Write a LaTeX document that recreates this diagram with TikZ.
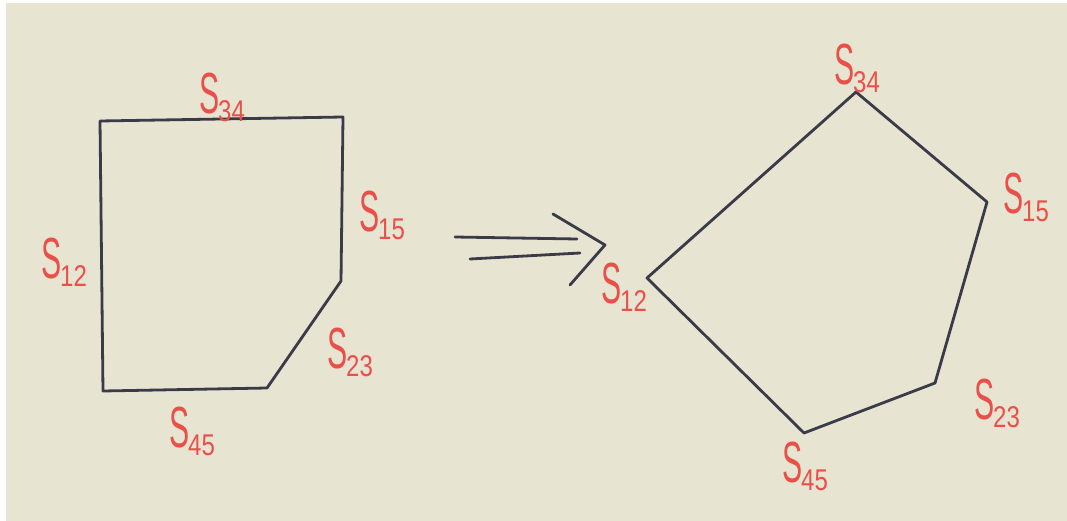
\documentclass[tikz,border=0pt]{standalone}
\usepackage{fontspec}
\setsansfont{Liberation Sans}
\definecolor{paper}{RGB}{232,228,210}
\definecolor{ink}{RGB}{58,58,72}
\definecolor{redink}{RGB}{234,80,74}
\newcommand\slab[1]{\sffamily\scalebox{0.52}[1]{\fontsize{58}{58}\selectfont S}\kern-1pt\raisebox{-8pt}{\scalebox{0.8}[1]{\fontsize{30}{30}\selectfont #1}}}
\begin{document}
\begin{tikzpicture}[x=1pt,y=-1pt,
  pen/.style={draw=ink,line width=2.8pt,line join=round,line cap=round},
  lab/.style={text=redink,inner sep=0pt,anchor=center}]
\useasboundingbox (0,0) rectangle (1067,521);
\fill[white] (0,0) rectangle (1067,521);
\fill[paper] (6,3) rectangle (1067,521);
% left shape
\coordinate (a1) at (100,121);
\coordinate (a2) at (343,117);
\coordinate (a3) at (341,281);
\coordinate (a4) at (267,388);
\coordinate (a5) at (103,391);
\draw[pen] (a1) -- (a2) -- (a3) -- (a4) -- (a5) -- cycle;
\node[lab] (l34) at (222,97) {\slab{34}};
\node[lab] (l15) at (382,215) {\slab{15}};
\node[lab] (l12) at (64,262) {\slab{12}};
\node[lab] (l23) at (350,352) {\slab{23}};
\node[lab] (l45) at (192,431) {\slab{45}};
% arrow
\coordinate (r1a) at (455,237);
\coordinate (r1b) at (577,239);
\coordinate (r2a) at (470,259);
\coordinate (r2b) at (580,253);
\coordinate (c1) at (553,214);
\coordinate (c2) at (605,245);
\coordinate (c3) at (570,285);
\draw[pen] (r1a) -- (r1b);
\draw[pen] (r2a) -- (r2b);
\draw[pen] (c1) -- (c2) -- (c3);
% right shape
\coordinate (b1) at (856,92);
\coordinate (b2) at (987,202);
\coordinate (b3) at (935,383);
\coordinate (b4) at (804,433);
\coordinate (b5) at (647,278);
\draw[pen] (b1) -- (b2) -- (b3) -- (b4) -- (b5) -- cycle;
\node[lab] (r34) at (857,68) {\slab{34}};
\node[lab] (r15) at (1026,197) {\slab{15}};
\node[lab] (r12) at (624,287) {\slab{12}};
\node[lab] (r23) at (997,403) {\slab{23}};
\node[lab] (r45) at (805,466) {\slab{45}};
\end{tikzpicture}
\end{document}
